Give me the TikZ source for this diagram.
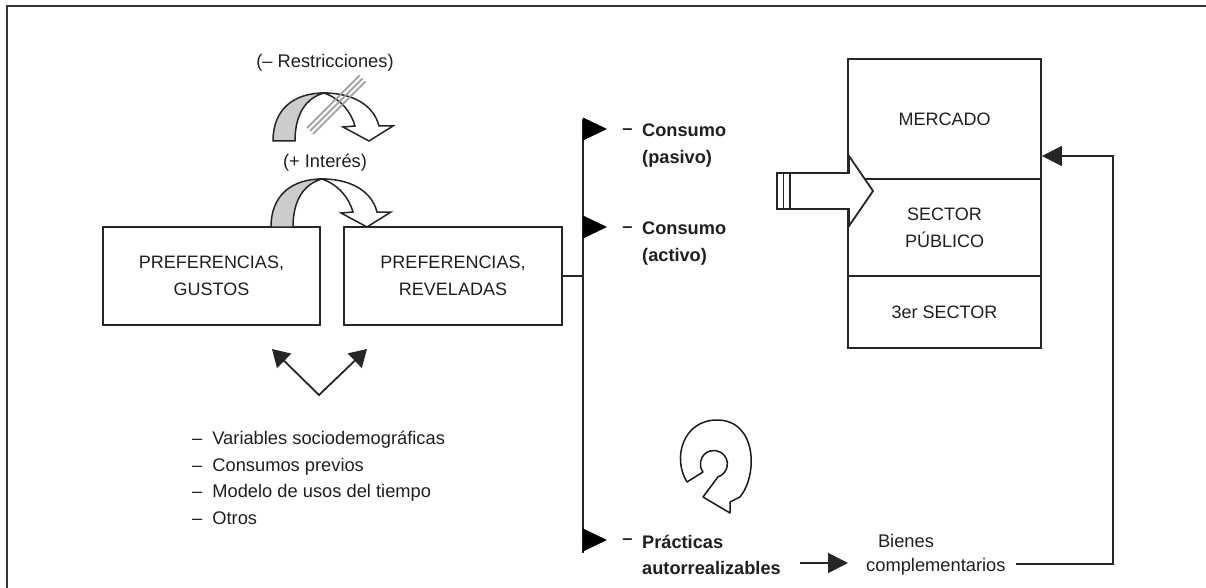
\documentclass[tikz,border=0pt]{standalone}
\usepackage{fontspec}
\setmainfont{Liberation Sans}
\usetikzlibrary{arrows.meta,calc}

% curved ribbon arrow: grey back face on the left leg, white front face with head
\newcommand\ribbonarrow{%
  \filldraw[fill=black!20,draw=black!85,line width=1.5pt]
    (271,227) .. controls (271,195) and (292,179) .. (322,179)
    .. controls (304,184) and (293,200) .. (293,227) -- cycle;
  \filldraw[fill=white,draw=black!85,line width=1.5pt,line join=miter]
    (322,179) .. controls (352,179) and (372,192) .. (377,212)
    -- (391,212) -- (367,227) -- (341,213) -- (353,212)
    .. controls (349,198) and (339,185) .. (322,179) -- cycle;
}

\begin{document}
\begin{tikzpicture}[x=1pt,y=-1pt,
  every node/.style={text=black!88},
  box/.style={draw=black!85,line width=1.8pt,inner sep=0,align=center,
    font=\fontsize{18}{27}\selectfont},
  txt/.style={inner sep=0,font=\fontsize{18.3}{26.5}\selectfont},
  btxt/.style={inner sep=0,align=left,font=\bfseries\fontsize{18.2}{26.5}\selectfont},
  wire/.style={draw=black!85,line width=1.8pt},
  head/.style={-{Triangle[length=20pt,width=20pt]}},
  vhead/.style={{Triangle[length=17pt,width=20pt]}-{Triangle[length=17pt,width=20pt]}},
]
\useasboundingbox (0,0) rectangle (1206,588);

% outer frame
\draw[line width=2.5pt,black!80] (7,588) -- (7,6) -- (1206,6);

% preference boxes
\node[box,minimum width=217pt,minimum height=98pt] (gustos) at (211.5,276)
  {PREFERENCIAS,\\GUSTOS};
\node[box,minimum width=218pt,minimum height=98pt] (reveladas) at (453,276)
  {PREFERENCIAS,\\REVELADAS};

% curved arrows between the boxes
\ribbonarrow
\begin{scope}[shift={(2,-86)}]
  \ribbonarrow
\end{scope}
\draw[black!40,line width=1.6pt]
  (307,128) -- (359.5,75.5)
  (310,131) -- (362.5,78.5)
  (313,134) -- (365.5,81.5);
\node[txt] (restr) at (325,63) {(– Restricciones)};
\node[txt] (interes) at (325,163) {(+ Interés)};

% double arrow and list of factors
\coordinate (vx) at (319,395);
\coordinate (vl) at (272,349);
\coordinate (vr) at (367,349);
\draw[wire,vhead,line join=miter] (vl) -- (vx) -- (vr);
\node[txt,anchor=west,align=left] (factores) at (192,478)
  {–\hspace{10pt}Variables sociodemográficas\\
   –\hspace{10pt}Consumos previos\\
   –\hspace{10pt}Modelo de usos del tiempo\\
   –\hspace{10pt}Otros};

% distribution bus
\coordinate (bt) at (583,119);
\coordinate (bb) at (583,553);
\draw[wire,line width=2.5pt] (bt) -- (bb);
\draw[wire] (reveladas.east) -- (reveladas.east -| bt);
\foreach \yy in {129,227,540}
  \fill[black] (583,\yy-11.5) -- (607,\yy) -- (583,\yy+11.5) -- cycle;

\node[btxt] (d1) at (627.5,132) {–};
\node[btxt,anchor=west] (pasivo) at (642,145.5) {Consumo\\(pasivo)};
\node[btxt] (d2) at (627.5,230) {–};
\node[btxt,anchor=west] (activo) at (642,243.5) {Consumo\\(activo)};
\node[btxt] (d3) at (627.5,542) {–};
\node[btxt,anchor=west] (practicas) at (642,555) {Prácticas\\autorrealizables};

% sectors
\node[box,minimum width=193pt,minimum height=120pt] (mercado) at (944.5,119) {MERCADO};
\node[box,minimum width=193pt,minimum height=97pt] (publico) at (944.5,227.5) {SECTOR\\PÚBLICO};
\node[box,minimum width=193pt,minimum height=72pt] (tercer) at (944.5,312) {3er SECTOR};

% hollow arrow entering the sectors
\filldraw[fill=white,wire,line join=miter]
  (777,173) -- (849,173) -- (849,156) -- (873,191) -- (849,226) -- (849,209) -- (777,209) -- cycle;
\draw[wire] (783.5,173) -- (783.5,209) (790,173) -- (790,209);

% circular arrow
\draw[black!90,line width=1.5pt,line join=round]
  (687,482) -- (703,472)
  arc[start angle=143.5,end angle=432,radius=13.5]
  -- (703,497) -- (730,513) -- (730,502) -- (740,497)
  .. controls (758,475) and (757,420) .. (717,420)
  .. controls (683,420) and (672,458) .. (687,482) -- cycle;

% complementary goods and feedback
\node[txt] (bienes) at (906,541) {Bienes};
\node[txt,anchor=west] (compl) at (866,567) {complementarios};
\coordinate (aa) at (800,563);
\coordinate (ae) at ($(aa -| compl.west)+(-18,0)$);
\draw[wire,head] (aa) -- (ae);
\coordinate (fbs) at (1016,564);
\coordinate (fbc) at (1113,156);
\draw[wire,head] (fbs) -| (fbc) -- (fbc -| mercado.east);
\end{tikzpicture}
\end{document}
